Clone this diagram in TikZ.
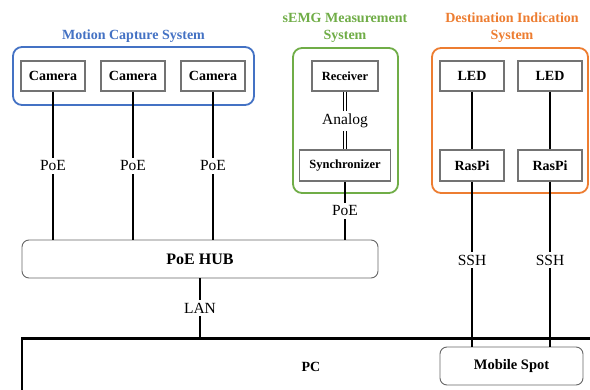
\documentclass[tikz,border=0pt]{standalone}
\usepackage{fontspec}
\setmainfont{Liberation Serif}
\usetikzlibrary{positioning}
\definecolor{mocapblue}{HTML}{4472C4}
\definecolor{emggreen}{HTML}{70AD47}
\definecolor{destorange}{HTML}{ED7D31}
\begin{document}
\begin{tikzpicture}[x=1pt,y=-1pt,
    dev/.style={draw=black!55,line width=1.2pt,fill=white,inner sep=0pt,
        minimum width=64,minimum height=30,font=\fontsize{14}{16}\selectfont\bfseries},
    smalldev/.style={dev,font=\fontsize{12.5}{14}\selectfont\bfseries},
    hubbox/.style={draw=black!60,line width=0.9pt,rounded corners=7pt,inner sep=0pt},
    grp/.style={line width=1.8pt,rounded corners=9pt,inner sep=0pt},
    grptitle/.style={font=\fontsize{14}{17}\selectfont\bfseries,align=center},
    lbl/.style={font=\fontsize{15.5}{18}\selectfont,inner sep=3pt},
    wire/.style={line width=2pt},
    analog/.style={line width=0.9pt,double=white,double distance=1.8pt}]
    \clip (0,0) rectangle (590,390);
    \fill[white] (0,0) rectangle (590,390);
    %% system frames
    \node[grp,draw=mocapblue,minimum width=241,minimum height=58] (mocap) at (133.5,76) {};
    \node[grptitle,text=mocapblue] (mocaptitle) at (133.5,36) {Motion Capture System};
    \node[grp,draw=emggreen,minimum width=105,minimum height=145] (emg) at (345.5,120.5) {};
    \node[grptitle,text=emggreen] (emgtitle) at (345,27.5) {sEMG Measurement\\System};
    \node[grp,draw=destorange,minimum width=156,minimum height=145] (dest) at (510,120.5) {};
    \node[grptitle,text=destorange] (desttitle) at (512,27.5) {Destination Indication\\System};
    %% devices
    \node[dev] (cam1) at (53,76) {Camera};
    \node[dev] (cam2) at (133,76) {Camera};
    \node[dev] (cam3) at (213,76) {Camera};
    \node[smalldev,minimum width=66] (recv) at (345,76) {Receiver};
    \node[smalldev,minimum width=91,minimum height=31] (sync) at (345,165.5) {Synchronizer};
    \node[dev] (led1) at (472,76) {LED};
    \node[dev] (led2) at (550,76) {LED};
    \node[dev,minimum height=31] (rpi1) at (472,165.5) {RasPi};
    \node[dev,minimum height=31] (rpi2) at (550,165.5) {RasPi};
    %% hub, pc, mobile spot
    \node[hubbox,minimum width=356,minimum height=38,font=\fontsize{16}{18}\selectfont\bfseries] (hub) at (200,259) {PoE HUB};
    \node[draw=black,line width=2.4pt,anchor=north west,minimum width=640,minimum height=120,inner sep=0pt] (pc) at (21,337.5) {};
    \node[font=\fontsize{14}{16}\selectfont\bfseries] (pctext) at (311,367) {PC};
    \node[hubbox,fill=white,minimum width=143,minimum height=38,font=\fontsize{14.5}{16}\selectfont\bfseries] (mob) at (511.5,366) {Mobile Spot};
    %% labels
    \node[lbl] (poe1) at (53,166) {PoE};
    \node[lbl] (poe2) at (133,166) {PoE};
    \node[lbl] (poe3) at (213,166) {PoE};
    \node[lbl] (poe4) at (345,211) {PoE};
    \node[lbl] (ana) at (345,121) {Analog};
    \node[lbl] (ssh1) at (472,260) {SSH};
    \node[lbl] (ssh2) at (550,260) {SSH};
    \node[lbl] (lan) at (200,308) {LAN};
    %% connections
    \draw[wire] (cam1) -- (poe1) -- (hub.north -| poe1);
    \draw[wire] (cam2) -- (poe2) -- (hub.north -| poe2);
    \draw[wire] (cam3) -- (poe3) -- (hub.north -| poe3);
    \draw[wire] (sync) -- (poe4) -- (hub.north -| poe4);
    \draw[analog] (recv) -- (ana);
    \draw[analog] (ana) -- (sync);
    \draw[wire] (led1) -- (rpi1);
    \draw[wire] (led2) -- (rpi2);
    \draw[wire] (rpi1) -- (ssh1) -- (mob.north -| ssh1);
    \draw[wire] (rpi2) -- (ssh2) -- (mob.north -| ssh2);
    \draw[wire] (hub) -- (lan) -- (pc.north -| lan);
\end{tikzpicture}
\end{document}
